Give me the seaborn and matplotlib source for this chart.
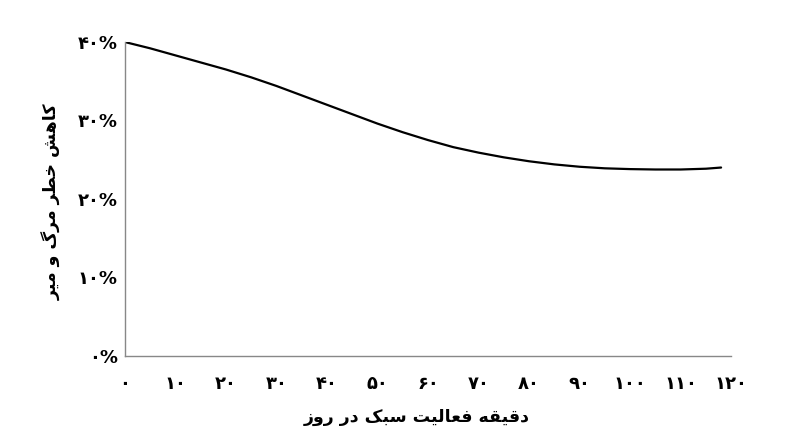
import numpy as np
import pandas as pd
import matplotlib
matplotlib.use("Agg")
import matplotlib.pyplot as plt
import seaborn as sns

# values
minutes = [0, 5, 10, 15, 20, 25, 30, 35, 40, 45, 50, 55, 60, 65, 70, 75,
           80, 85, 90, 95, 100, 105, 110, 115, 118]
reduction = [40.0, 39.2, 38.3, 37.4, 36.5, 35.5, 34.4, 33.2, 32.0, 30.8,
             29.6, 28.5, 27.5, 26.6, 25.9, 25.3, 24.8, 24.4, 24.1, 23.9,
             23.8, 23.75, 23.75, 23.85, 24.0]
x_ticks = [0, 10, 20, 30, 40, 50, 60, 70, 80, 90, 100, 110, 120]
y_ticks = [0, 10, 20, 30, 40]
x_label = "دقیقه فعالیت سبک در روز"
y_label = "کاهش خطر مرگ و میر"

# matplotlib has no arabic shaping, so pick presentation forms by hand
# (isolated, final, initial, medial)
FORMS = {
    "ا": ("\uFE8D", "\uFE8E"),
    "ب": ("\uFE8F", "\uFE90", "\uFE91", "\uFE92"),
    "ت": ("\uFE95", "\uFE96", "\uFE97", "\uFE98"),
    "خ": ("\uFEA5", "\uFEA6", "\uFEA7", "\uFEA8"),
    "د": ("\uFEA9", "\uFEAA"),
    "ر": ("\uFEAD", "\uFEAE"),
    "ز": ("\uFEAF", "\uFEB0"),
    "س": ("\uFEB1", "\uFEB2", "\uFEB3", "\uFEB4"),
    "ش": ("\uFEB5", "\uFEB6", "\uFEB7", "\uFEB8"),
    "ط": ("\uFEC1", "\uFEC2", "\uFEC3", "\uFEC4"),
    "ع": ("\uFEC9", "\uFECA", "\uFECB", "\uFECC"),
    "ف": ("\uFED1", "\uFED2", "\uFED3", "\uFED4"),
    "ق": ("\uFED5", "\uFED6", "\uFED7", "\uFED8"),
    "ل": ("\uFEDD", "\uFEDE", "\uFEDF", "\uFEE0"),
    "م": ("\uFEE1", "\uFEE2", "\uFEE3", "\uFEE4"),
    "ه": ("\uFEE9", "\uFEEA", "\uFEEB", "\uFEEC"),
    "و": ("\uFEED", "\uFEEE"),
    "ک": ("\uFB8E", "\uFB8F", "\uFB90", "\uFB91"),
    "گ": ("\uFB92", "\uFB93", "\uFB94", "\uFB95"),
    "ی": ("\uFBFC", "\uFBFD", "\uFBFE", "\uFBFF"),
}


def shape(text):
    out = []
    for i, ch in enumerate(text):
        if ch not in FORMS:
            out.append(ch)
            continue
        prev = text[i - 1] if i > 0 else ""
        nxt = text[i + 1] if i + 1 < len(text) else ""
        join_prev = prev in FORMS and len(FORMS[prev]) == 4
        join_next = len(FORMS[ch]) == 4 and nxt in FORMS
        f = FORMS[ch]
        if join_prev and join_next:
            out.append(f[3])
        elif join_prev:
            out.append(f[1])
        elif join_next:
            out.append(f[2])
        else:
            out.append(f[0])
    return "".join(out)[::-1]


def fa_digits(v):
    return str(v).translate(str.maketrans("0123456789", "۰۱۲۳۴۵۶۷۸۹"))


sns.set_theme(style="white")
plt.rcParams["font.family"] = ["DejaVu Sans"]
plt.rcParams["font.weight"] = "bold"
plt.rcParams["text.color"] = "black"
plt.rcParams["xtick.labelcolor"] = "black"
plt.rcParams["ytick.labelcolor"] = "black"
plt.rcParams["axes.labelcolor"] = "black"

df = pd.DataFrame({"minutes": minutes, "reduction": reduction})

fig = plt.figure(figsize=(8, 4.47), dpi=100)
ax = fig.add_axes([0.156, 0.204, 0.758, 0.702])

sns.lineplot(data=df, x="minutes", y="reduction", color="black",
             linewidth=1.6, ax=ax)

ax.set_xlim(0, 120)
ax.set_ylim(0, 40)
ax.set_xticks(x_ticks)
ax.set_xticklabels([fa_digits(t) for t in x_ticks], fontsize=13,
                   fontweight="bold")
ax.set_yticks(y_ticks)
ax.set_yticklabels([fa_digits(t) + "%" for t in y_ticks], fontsize=13,
                   fontweight="bold")
ax.tick_params(axis="x", direction="in", length=5, width=1, color="#888888",
               labelcolor="black", pad=14)
ax.tick_params(axis="y", direction="in", length=5, width=1, color="#888888",
               labelcolor="black", pad=5)

for side in ["top", "right"]:
    ax.spines[side].set_visible(False)
for side in ["left", "bottom"]:
    ax.spines[side].set_color("#888888")
    ax.spines[side].set_linewidth(1)

ax.set_xlabel(shape(x_label), fontsize=12.5, fontweight="bold", color="black")
ax.set_ylabel(shape(y_label), fontsize=12.5, fontweight="bold", color="black")
ax.xaxis.set_label_coords(0.482, -0.165)
ax.yaxis.set_label_coords(-0.104, 0.49)

fig.savefig("out.png", dpi=100, facecolor="white")
